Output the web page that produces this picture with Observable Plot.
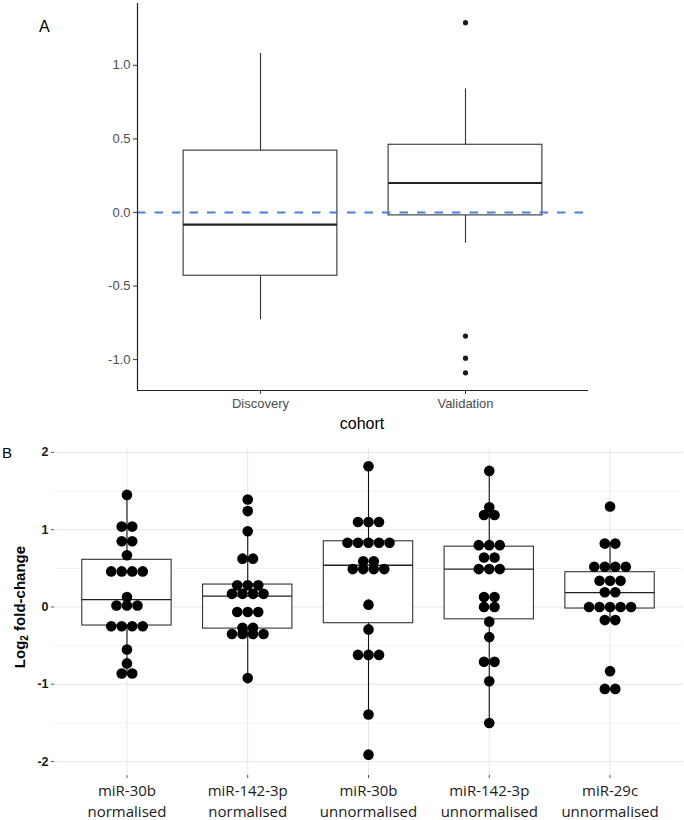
<!DOCTYPE html>
<html><head><meta charset="utf-8">
<script src="https://cdn.jsdelivr.net/npm/d3@7"></script>
<script src="https://cdn.jsdelivr.net/npm/@observablehq/plot@0.6"></script>
<style>
body{margin:0;background:#fff;width:684px;height:820px;position:relative;overflow:hidden;font-family:"Liberation Sans",Arial,sans-serif}
#a{position:absolute;left:0;top:0}
#b{position:absolute;left:0;top:430px}
.lab{position:absolute;color:#000;line-height:20px}
#ytitle{position:absolute;left:-80px;top:597px;width:200px;height:20px;line-height:20px;text-align:center;transform:rotate(-90deg);font-weight:bold;font-size:15px;color:#000}
#ytitle sub{font-size:10px;vertical-align:-3px;line-height:0}
</style></head><body>
<div id="a"></div><div id="b"></div>
<div class="lab" style="left:39px;top:17px;font-size:16px">A</div>
<div class="lab" style="left:2px;top:443px;font-size:15px">B</div>
<div class="lab" style="left:312px;top:414px;width:100px;text-align:center;font-size:16px">cohort</div>
<div id="ytitle">Log<sub>2</sub> fold-change</div>
<script>
// ---------- Panel A data ----------
const cohorts = ["Discovery", "Validation"];
const A_q1  = [-0.43, -0.02];
const A_med = [-0.083, 0.20];
const A_q3  = [0.42, 0.46];
const A_lo  = [-0.73, -0.21];
const A_hi  = [1.08, 0.84];
const A_outCohort = ["Validation", "Validation", "Validation", "Validation"];
const A_outValue  = [1.29, -0.84, -0.99, -1.09];
const A_yTicks = [-1, -0.5, 0, 0.5, 1];
const A_refLine = [0];

// ---------- Panel B data ----------
const groups = ["miR-30b\nnormalised", "miR-142-3p\nnormalised", "miR-30b\nunnormalised", "miR-142-3p\nunnormalised", "miR-29c\nunnormalised"];
const g1 = [1.45, 1.04,1.04, 0.85,0.85, 0.67, 0.46,0.46,0.46,0.46, 0.13, 0.02,0.02,0.02, -0.25,-0.25,-0.25,-0.25, -0.55, -0.73, -0.86,-0.86];
const g2 = [1.39, 1.24, 0.98, 0.625,0.625, 0.28,0.28,0.28, 0.17,0.17,0.17,0.17, -0.065,-0.065,-0.065, -0.27,-0.27, -0.35,-0.35,-0.35,-0.35, -0.92];
const g3 = [1.82, 1.10,1.10,1.10, 0.83,0.83,0.83,0.83,0.83, 0.59,0.59, 0.49,0.49,0.49,0.49, 0.03, -0.29, -0.62,-0.62,-0.62, -1.39, -1.91];
const g4 = [1.76, 1.29, 1.19,1.19, 0.80,0.80,0.80, 0.64,0.64, 0.49,0.49,0.49, 0.13,0.13, 0.0,0.0, -0.19, -0.39, -0.71,-0.71, -0.96, -1.50];
const g5 = [1.30, 0.82,0.82, 0.52,0.52,0.52,0.52, 0.34,0.34,0.34, 0.19,0.19, 0.0,0.0,0.0,0.0,0.0, -0.17,-0.17, -0.83, -1.06,-1.06];
const B_q1  = [-0.24, -0.28, -0.21, -0.16, -0.02];
const B_med = [0.095, 0.14, 0.54, 0.49, 0.185];
const B_q3  = [0.61, 0.29, 0.85, 0.78, 0.45];
const B_lo  = [-0.86, -0.92, -1.39, -1.50, -0.17];
const B_hi  = [1.45, 0.98, 1.82, 1.76, 0.82];
const B_yTicks = [-2, -1, 0, 1, 2];
const B_yMinor = [-1.5, -0.5, 0.5, 1.5];

// ---------- Panel A ----------
const HALF = 0.375;
const xDomA = [0.4, 2.6], yDomA = [-1.21, 1.42];
const boxA = cohorts.map((c, i) => ({x: i + 1, q1: A_q1[i], med: A_med[i], q3: A_q3[i], lo: A_lo[i], hi: A_hi[i]}));
const outA = A_outCohort.map((c, i) => ({x: cohorts.indexOf(c) + 1, v: A_outValue[i]}));
const plotA = Plot.plot({
  width: 684, height: 430,
  marginLeft: 137, marginRight: 96, marginTop: 3, marginBottom: 40,
  style: {fontFamily: "Liberation Sans, Arial, sans-serif", fontSize: "13px", color: "#4d4d4d", background: "#fff"},
  x: {domain: xDomA, axis: null},
  y: {domain: yDomA, axis: null},
  marks: [
    Plot.axisY({ticks: A_yTicks, tickFormat: d => d.toFixed(1), tickSize: 4, tickPadding: 3, label: null, fill: "#4d4d4d", stroke: "#333"}),
    Plot.axisX({ticks: boxA.map(d => d.x), tickFormat: d => cohorts[d - 1], tickSize: 4, tickPadding: 4, label: null, fill: "#4d4d4d", stroke: "#333"}),
    Plot.ruleX(boxA, {x: "x", y1: "lo", y2: "hi", stroke: "#333", strokeWidth: 1.1}),
    Plot.rect(boxA, {x1: d => d.x - HALF, x2: d => d.x + HALF, y1: "q1", y2: "q3", fill: "#fff", stroke: "#333", strokeWidth: 1.1}),
    Plot.ruleY(boxA, {y: "med", x1: d => d.x - HALF, x2: d => d.x + HALF, stroke: "#222", strokeWidth: 2.2}),
    Plot.dot(outA, {x: "x", y: "v", r: 2.6, fill: "#1a1a1a", stroke: null}),
    Plot.ruleY(A_refLine, {stroke: "#4a7ee0", strokeWidth: 2, strokeDasharray: "8.5,9"}),
    Plot.ruleX([xDomA[0]], {stroke: "#222", strokeWidth: 1.2}),
    Plot.ruleY([yDomA[0]], {stroke: "#222", strokeWidth: 1.2})
  ]
});
document.getElementById("a").appendChild(plotA);

// ---------- Panel B ----------
const DOT_STEP = 0.087;
const table = [];
[g1, g2, g3, g4, g5].forEach((vals, gi) => {
  const counts = d3.rollup(vals, v => v.length, v => v);
  const seen = new Map();
  vals.forEach(v => {
    const k = counts.get(v);
    const i = seen.get(v) ?? 0;
    seen.set(v, i + 1);
    table.push({group: gi + 1, value: v, slot: i - (k - 1) / 2});
  });
});
const boxB = groups.map((g, i) => ({x: i + 1, q1: B_q1[i], med: B_med[i], q3: B_q3[i], lo: B_lo[i], hi: B_hi[i]}));
const xDomB = [0.4, 5.6], yDomB = [-2.18, 2.05];
const plotB = Plot.plot({
  width: 684, height: 390,
  marginLeft: 54, marginRight: 2, marginTop: 18, marginBottom: 45,
  style: {fontFamily: "Liberation Sans, Arial, sans-serif", fontSize: "12.5px", color: "#1a1a1a", background: "#fff"},
  x: {domain: xDomB, axis: null},
  y: {domain: yDomB, axis: null},
  marks: [
    Plot.gridY(B_yMinor, {stroke: "#f0f0f0", strokeOpacity: 1, strokeWidth: 0.8}),
    Plot.gridY(B_yTicks, {stroke: "#e6e6e6", strokeOpacity: 1, strokeWidth: 1}),
    Plot.gridX(boxB.map(d => d.x), {stroke: "#e6e6e6", strokeOpacity: 1, strokeWidth: 1}),
    Plot.axisY({ticks: B_yTicks, tickFormat: d => String(d), tickSize: 3, tickPadding: 3, label: null, fontWeight: "bold", fill: "#1a1a1a", stroke: "#555"}),
    Plot.axisX({ticks: boxB.map(d => d.x), tickFormat: d => groups[d - 1], tickSize: 3, tickPadding: 2, label: null, fontFamily: "Open Sans", fontSize: 15, lineHeight: 1.42, fill: "#1a1a1a", stroke: "#555"}),
    Plot.ruleX(boxB, {x: "x", y1: "lo", y2: "hi", stroke: "#111", strokeWidth: 1.1}),
    Plot.rect(boxB, {x1: d => d.x - 0.37, x2: d => d.x + 0.37, y1: "q1", y2: "q3", fill: "#fff", stroke: "#333", strokeWidth: 1.1}),
    Plot.ruleY(boxB, {y: "med", x1: d => d.x - 0.37, x2: d => d.x + 0.37, stroke: "#222", strokeWidth: 1.4}),
    Plot.dot(table, {x: d => d.group + d.slot * DOT_STEP, y: "value", r: 5.3, fill: "#000", stroke: null})
  ]
});
document.getElementById("b").appendChild(plotB);
</script>
</body></html>
